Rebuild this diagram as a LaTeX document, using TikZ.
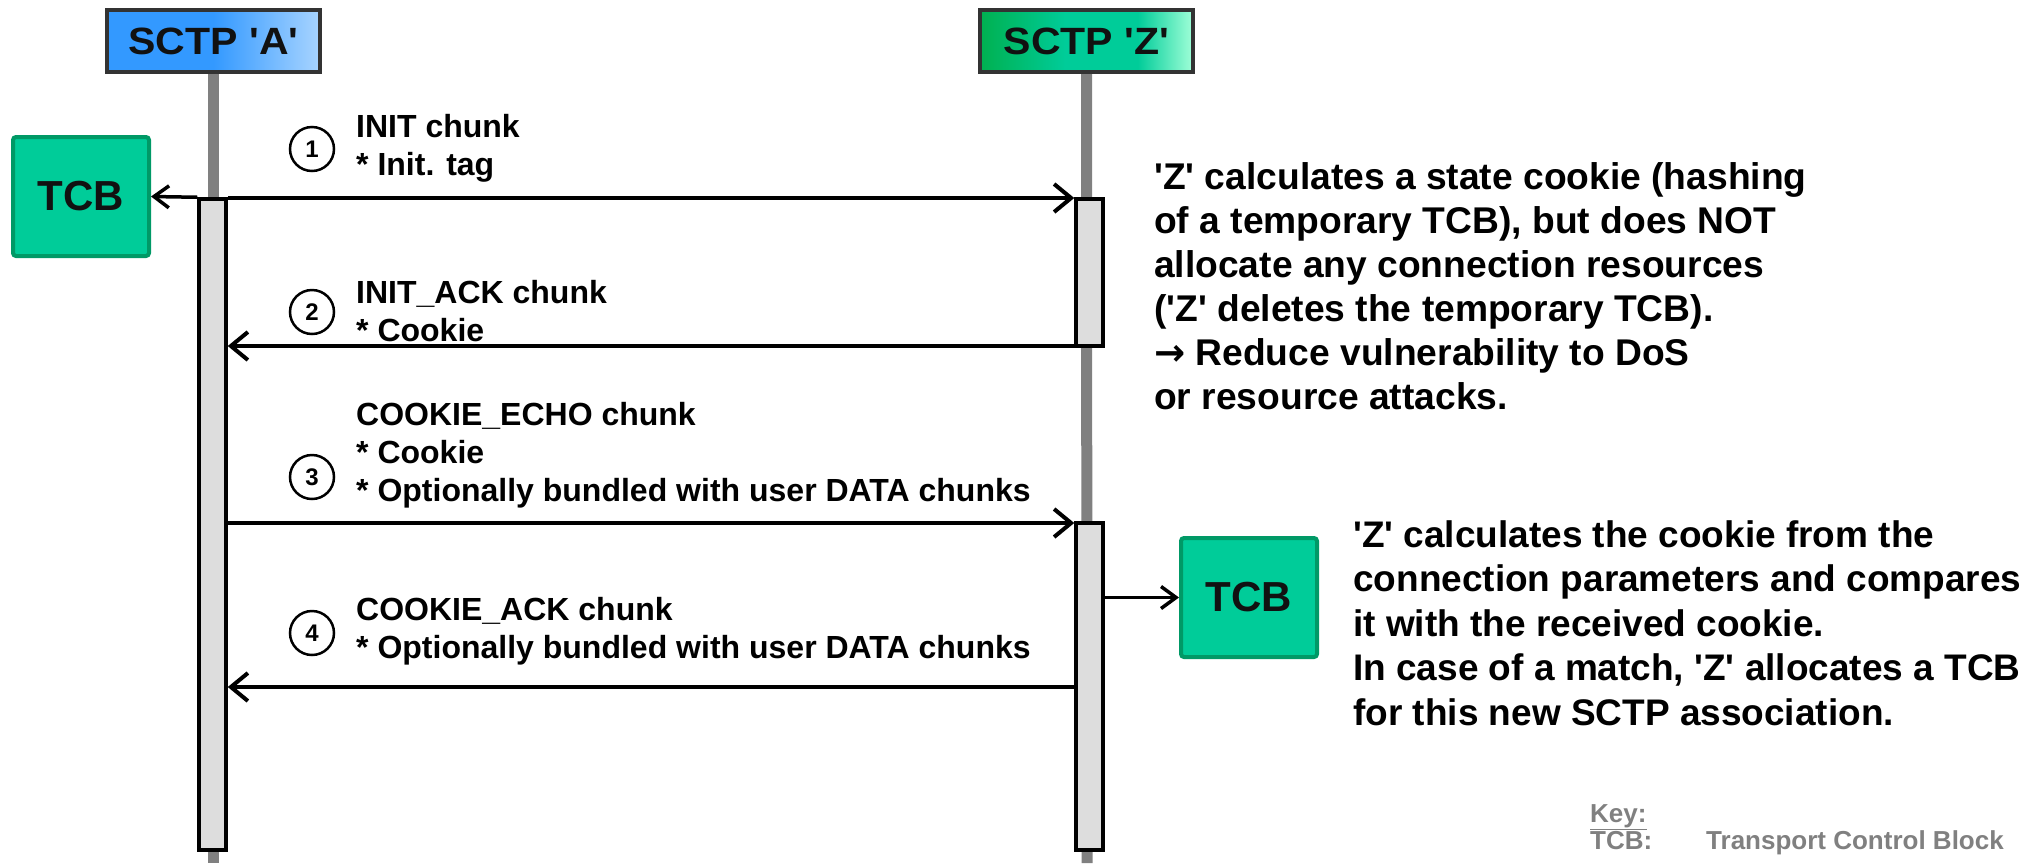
\documentclass[tikz,border=0pt]{standalone}
\usepackage{fontspec}
\setmainfont{Liberation Sans}
\newfontfamily\lib{Liberation Sans}
\newfontfamily\djv{DejaVu Sans}
\usetikzlibrary{arrows.meta}
\definecolor{lifegray}{HTML}{808080}
\definecolor{bargray}{HTML}{DDDDDD}
\definecolor{tcbfill}{HTML}{00CC99}
\definecolor{tcbedge}{HTML}{009966}
\definecolor{hdredge}{HTML}{333333}
\definecolor{blueA}{HTML}{3399FF}
\definecolor{blueL}{HTML}{A8D4FF}
\definecolor{greenD}{HTML}{00B050}
\definecolor{greenM}{HTML}{00CC99}
\definecolor{greenL}{HTML}{A0FFD8}
\definecolor{keygray}{HTML}{808080}
\definecolor{ink}{HTML}{111111}
\pgfdeclarehorizontalshading{shadeA}{100bp}{color(0bp)=(blueA); color(25bp)=(blueA); color(50bp)=(blueA); color(75bp)=(blueL); color(100bp)=(blueL)}
\pgfdeclarehorizontalshading{shadeZ}{100bp}{color(0bp)=(greenD); color(25bp)=(greenD); color(45bp)=(greenM); color(62bp)=(greenM); color(75bp)=(greenL); color(100bp)=(greenL)}
\newcommand{\mlines}[1]{\bfseries\begin{tabular}[t]{@{}l@{}}#1\end{tabular}}
\begin{document}
\begin{tikzpicture}[x=1pt,y=-1pt,
  lifeline/.style={line width=11pt, draw=lifegray},
  actbar/.style={draw=black, fill=bargray, line width=3.5pt, inner sep=0pt, minimum width=27pt},
  msg/.style={line width=4pt, -{Straight Barb[length=17pt,width=28pt]}},
  tcbarrow/.style={line width=3.5pt, -{Straight Barb[length=15pt,width=22pt]}},
  hdr/.style={draw=hdredge, line width=4pt, minimum width=213pt, minimum height=62pt, inner sep=0pt, text=ink, font=\lib\fontsize{38}{44}\selectfont\bfseries},
  tcbbox/.style={draw=tcbedge, fill=tcbfill, line width=4pt, rounded corners=3pt, minimum width=136pt, minimum height=119pt, inner sep=0pt, text=ink, font=\lib\fontsize{42}{48}\selectfont\bfseries},
  stepnum/.style={circle, draw=black, line width=2.5pt, minimum size=44pt, inner sep=0pt, font=\lib\fontsize{24}{28}\selectfont\bfseries},
  lbl/.style={anchor=base west, inner sep=0pt, text=black, font=\lib\fontsize{32}{38}\selectfont\bfseries},
  note/.style={anchor=base west, inner sep=0pt, text=black, font=\lib\fontsize{37.2}{44}\selectfont\bfseries},
  keytext/.style={anchor=base west, inner sep=0pt, text=keygray, font=\lib\fontsize{26}{27}\selectfont\bfseries}
]
\useasboundingbox (0,0) rectangle (2034,863);

% headers
\node[hdr, shading=shadeA] (hdrA) at (213.5,41) {\scalebox{1.08}[1]{SCTP 'A'}};
\node[hdr, shading=shadeZ] (hdrZ) at (1086.5,41) {\scalebox{1.08}[1]{SCTP 'Z'}};
\coordinate (endA) at (213.5,863);
\coordinate (endZ) at (1087,863);

% lifelines
\draw[lifeline] (hdrA.south) -- (endA);
\draw[lifeline] (hdrZ.south) -- (endZ);

% activation bars
\node[actbar, minimum height=651pt] (barA) at (212.5,524.5) {};
\node[actbar, minimum height=147pt] (barZa) at (1089.5,272.5) {};
\node[actbar, minimum height=327pt] (barZb) at (1089.5,686.5) {};

% TCB boxes
\node[tcbbox] (tcbA) at (81,196.5) {TCB};
\node[tcbbox] (tcbZ) at (1249,597.5) {TCB};

% message levels
\coordinate (m1) at (0,198);
\coordinate (m2) at (0,346);
\coordinate (m3) at (0,523);
\coordinate (m4) at (0,687);

\draw[msg] (barA.east |- m1) -- (barZa.west |- m1);
\draw[msg] (barZa.west |- m2) -- (barA.east |- m2);
\draw[msg] (barA.east |- m3) -- (barZb.west |- m3);
\draw[msg] (barZb.west |- m4) -- (barA.east |- m4);
\draw[tcbarrow] (barA.north west) -- (tcbA.east);
\draw[tcbarrow] (barZb.east |- tcbZ.west) -- (tcbZ.west);

% step numbers
\node[stepnum] (n1) at (312,149) {1};
\node[stepnum] (n2) at (312,312) {2};
\node[stepnum] (n3) at (312,477) {3};
\node[stepnum] (n4) at (312,633) {4};

% message labels
\node[lbl] (l1) at (356,137) {\mlines{INIT chunk\\{*} Init. tag}};
\node[lbl] (l2) at (356,303) {\mlines{INIT\_ACK chunk\\{*} Cookie}};
\node[lbl] (l3) at (356,425) {\mlines{COOKIE\_ECHO chunk\\{*} Cookie\\{*} Optionally bundled with user DATA chunks}};
\node[lbl] (l4) at (356,620) {\mlines{COOKIE\_ACK chunk\\{*} Optionally bundled with user DATA chunks}};

% notes
\node[note] (t1) at (1154,189) {\mlines{'Z' calculates a state cookie (hashing\\of a temporary TCB), but does NOT\\allocate any connection resources\\('Z' deletes the temporary TCB).\\{\djv\bfseries →} Reduce vulnerability to DoS\\or resource attacks.}};
\node[note] (t2) at (1353,547) {\fontsize{37}{44.5}\selectfont\mlines{'Z' calculates the cookie from the\\connection parameters and compares\\it with the received cookie.\\In case of a match, 'Z' allocates a TCB\\for this new SCTP association.}};

% key
\node[keytext] (k1) at (1590,822) {\mlines{\underline{Key:}\\TCB:}};
\node[keytext] (k2) at (1706,849) {Transport Control Block};
\end{tikzpicture}
\end{document}
